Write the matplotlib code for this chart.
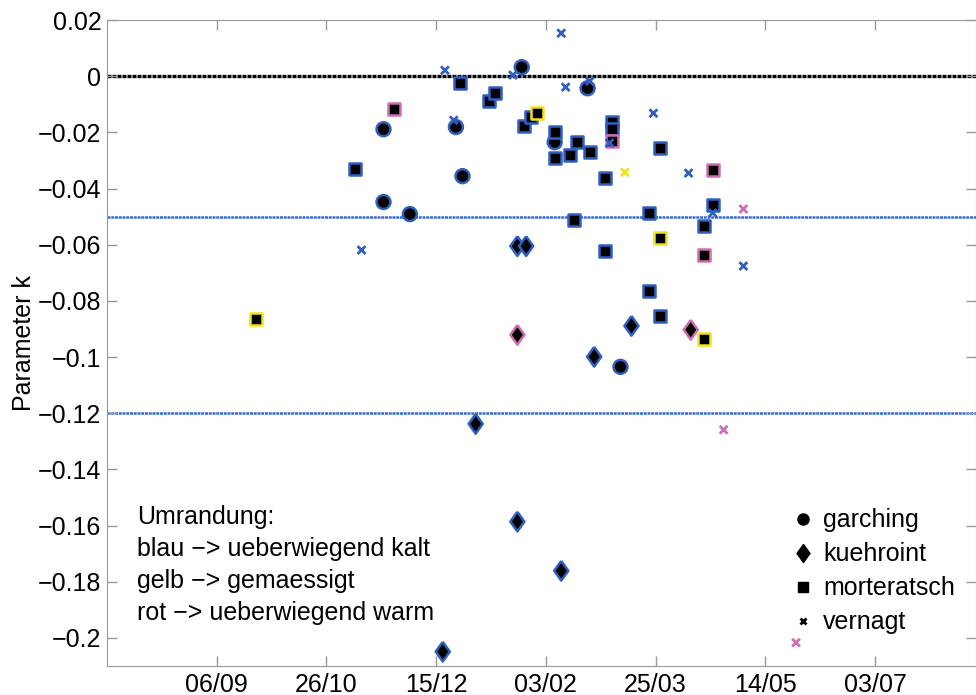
import matplotlib
matplotlib.use("Agg")
import matplotlib.pyplot as plt
import matplotlib.dates as mdates
from matplotlib.lines import Line2D
import pandas as pd

plt.rcParams["font.family"] = ["Liberation Sans", "DejaVu Sans"]

# edge colour codes: b = ueberwiegend kalt, y = gemaessigt, r = ueberwiegend warm
garching_dates = ["2000-11-21", "2000-11-21", "2000-12-03", "2000-12-24", "2000-12-27",
                  "2001-01-23", "2001-02-07", "2001-02-22", "2001-03-09"]
garching_k = [-0.0189, -0.0448, -0.0491, -0.0181, -0.0356, 0.0032, -0.0235, -0.0043, -0.1035]
garching_edge = ["b", "b", "b", "b", "b", "b", "b", "b", "b"]

kuehroint_dates = ["2001-01-21", "2001-01-25", "2001-01-21", "2001-02-25", "2001-03-14",
                   "2001-04-10", "2001-01-02", "2001-01-21", "2001-02-10", "2000-12-18"]
kuehroint_k = [-0.0605, -0.0605, -0.0921, -0.0999, -0.0889, -0.0903, -0.1238, -0.1586,
               -0.1761, -0.2049]
kuehroint_edge = ["b", "b", "r", "b", "b", "r", "b", "b", "b", "b"]

morteratsch_dates = ["2000-11-08", "2000-11-26", "2000-12-26", "2001-01-08", "2001-01-11",
                     "2001-01-24", "2001-01-27", "2001-01-30", "2001-02-07", "2001-02-07",
                     "2001-02-14", "2001-02-17", "2001-02-23", "2001-02-16", "2001-03-02",
                     "2001-03-02", "2001-03-05", "2001-03-05", "2001-03-05", "2001-03-22",
                     "2001-03-27", "2001-03-27", "2001-03-22", "2001-03-27", "2001-04-20",
                     "2001-04-20", "2001-04-16", "2001-04-16", "2001-04-16", "2000-09-24"]
morteratsch_k = [-0.0331, -0.0117, -0.0025, -0.0089, -0.0060, -0.0178, -0.0146, -0.0132,
                 -0.0199, -0.0292, -0.0281, -0.0235, -0.0270, -0.0512, -0.0363, -0.0623,
                 -0.0164, -0.0189, -0.0231, -0.0487, -0.0256, -0.0576, -0.0765, -0.0854,
                 -0.0334, -0.0459, -0.0534, -0.0637, -0.0936, -0.0864]
morteratsch_edge = ["b", "r", "b", "b", "b", "b", "b", "y", "b", "b",
                    "b", "b", "b", "b", "b", "b", "b", "b", "r", "b",
                    "b", "y", "b", "b", "r", "b", "b", "r", "y", "y"]

vernagt_dates = ["2000-11-11", "2000-12-19", "2000-12-23", "2001-01-19", "2001-02-10",
                 "2001-02-12", "2001-02-23", "2001-03-04", "2001-03-11", "2001-03-24",
                 "2001-04-09", "2001-04-20", "2001-05-04", "2001-05-04", "2001-04-25",
                 "2001-05-28"]
vernagt_k = [-0.0619, 0.0021, -0.0157, 0.0004, 0.0153, -0.0039, -0.0018, -0.0238, -0.0342,
             -0.0132, -0.0345, -0.0487, -0.0473, -0.0676, -0.1259, -0.2017]
vernagt_edge = ["b", "b", "b", "b", "b", "b", "b", "b", "y", "b",
                "b", "b", "r", "b", "r", "r"]

limit_lines = [0.0, -0.05, -0.12]

xtick_dates = ["2000-09-06", "2000-10-26", "2000-12-15", "2001-02-03", "2001-03-25",
               "2001-05-14", "2001-07-03"]
xtick_labels = ["06/09", "26/10", "15/12", "03/02", "25/03", "14/05", "03/07"]
ytick_values = [0.02, 0.0, -0.02, -0.04, -0.06, -0.08, -0.1, -0.12, -0.14, -0.16, -0.18, -0.2]
ytick_labels = ["0.02", "0", "\u22120.02", "\u22120.04", "\u22120.06", "\u22120.08",
                "\u22120.1", "\u22120.12", "\u22120.14", "\u22120.16", "\u22120.18", "\u22120.2"]

note_lines = ["Umrandung:", "blau \u2212> ueberwiegend kalt", "gelb \u2212> gemaessigt",
              "rot \u2212> ueberwiegend warm"]

EDGE = {"b": "#2f5fc0", "y": "#f2e21a", "r": "#cf6fb2"}
FONT = 18
# MATLAB style diamond, a bit wider than matplotlib's thin diamond
DIAMOND = [(0, 1), (0.72, 0), (0, -1), (-0.72, 0), (0, 1)]


def to_num(dates):
    return mdates.date2num(pd.to_datetime(dates))


fig = plt.figure(figsize=(9.76, 6.95), dpi=100)
ax = fig.add_axes([107 / 976, 29 / 695, 1 - 107 / 976, 646 / 695])

for value in limit_lines:
    color = "black" if value == 0 else "#3a6ccc"
    width = 2.4 if value == 0 else 1.8
    ax.axhline(value, color=color, linewidth=width, linestyle=(0, (1.2, 0.3)), zorder=1)

ax.scatter(to_num(garching_dates), garching_k, marker="o", s=100, c="black",
           edgecolors=[EDGE[e] for e in garching_edge], linewidths=1.8, zorder=3)
ax.scatter(to_num(kuehroint_dates), kuehroint_k, marker=DIAMOND, s=200, c="black",
           edgecolors=[EDGE[e] for e in kuehroint_edge], linewidths=1.8, zorder=3)
ax.scatter(to_num(morteratsch_dates), morteratsch_k, marker="s", s=75, c="black",
           edgecolors=[EDGE[e] for e in morteratsch_edge], linewidths=1.8, zorder=3)
ax.scatter(to_num(vernagt_dates), vernagt_k, marker="x", s=32,
           c=[EDGE[e] for e in vernagt_edge], linewidths=2.0, zorder=3)

ax.set_xlim(to_num(["2000-07-18"])[0], to_num(["2001-08-18"])[0])
ax.set_ylim(-0.21, 0.02)
ax.set_xticks(to_num(xtick_dates))
ax.set_xticklabels(xtick_labels)
ax.set_yticks(ytick_values)
ax.set_yticklabels(ytick_labels)
ax.tick_params(direction="in", length=7, width=1, color="#999999", labelsize=FONT,
               top=True, right=True)
ax.tick_params(axis="x", pad=5)
ax.tick_params(axis="y", pad=4)
for spine in ax.spines.values():
    spine.set_color("#999999")
ax.set_ylabel("Parameter k", fontsize=FONT)
ax.yaxis.set_label_coords(-0.082, 0.5)

for i, line in enumerate(note_lines):
    ax.text(0.0345, 0.231 - i * 0.0495, line, transform=ax.transAxes, fontsize=FONT,
            va="center", ha="left")

handles = [
    Line2D([], [], marker="o", color="black", linestyle="none", markersize=8),
    Line2D([], [], marker=DIAMOND, color="black", linestyle="none", markersize=13),
    Line2D([], [], marker="s", color="black", linestyle="none", markersize=7),
    Line2D([], [], marker="x", color="black", linestyle="none", markersize=5,
           markeredgewidth=2),
]
ax.legend(handles, ["garching", "kuehroint", "morteratsch", "vernagt"], loc="upper left",
          bbox_to_anchor=(0.787, 0.244), frameon=False, fontsize=FONT, borderpad=0,
          borderaxespad=0, handlelength=0.95, handletextpad=0.33, labelspacing=0.4)

fig.savefig("out.png", dpi=100)
